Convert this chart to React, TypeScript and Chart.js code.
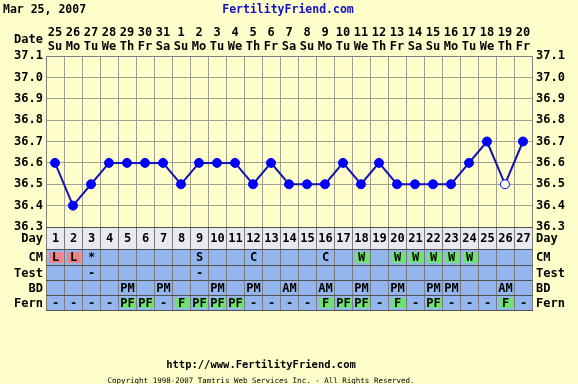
import React, { useEffect, useRef } from 'react';
import { Chart, registerables } from 'chart.js';

Chart.register(...registerables);

const dates = ['25', '26', '27', '28', '29', '30', '31', '1', '2', '3', '4', '5', '6', '7', '8', '9', '10', '11', '12', '13', '14', '15', '16', '17', '18', '19', '20'];
const weekdays = ['Su', 'Mo', 'Tu', 'We', 'Th', 'Fr', 'Sa', 'Su', 'Mo', 'Tu', 'We', 'Th', 'Fr', 'Sa', 'Su', 'Mo', 'Tu', 'We', 'Th', 'Fr', 'Sa', 'Su', 'Mo', 'Tu', 'We', 'Th', 'Fr'];
const cycleDays = ['1', '2', '3', '4', '5', '6', '7', '8', '9', '10', '11', '12', '13', '14', '15', '16', '17', '18', '19', '20', '21', '22', '23', '24', '25', '26', '27'];
const temps = [36.6, 36.4, 36.5, 36.6, 36.6, 36.6, 36.6, 36.5, 36.6, 36.6, 36.6, 36.5, 36.6, 36.5, 36.5, 36.5, 36.6, 36.5, 36.6, 36.5, 36.5, 36.5, 36.5, 36.6, 36.7, 36.5, 36.7];
const openPoints = ['26'];
const cmRow = ['L', 'L', '*', '', '', '', '', '', 'S', '', '', 'C', '', '', '', 'C', '', 'W', '', 'W', 'W', 'W', 'W', 'W', '', '', ''];
const testRow = ['', '', '-', '', '', '', '', '', '-', '', '', '', '', '', '', '', '', '', '', '', '', '', '', '', '', '', ''];
const bdRow = ['', '', '', '', 'PM', '', 'PM', '', '', 'PM', '', 'PM', '', 'AM', '', 'AM', '', 'PM', '', 'PM', '', 'PM', 'PM', '', '', 'AM', ''];
const fernRow = ['-', '-', '-', '-', 'PF', 'PF', '-', 'F', 'PF', 'PF', 'PF', '-', '-', '-', '-', 'F', 'PF', 'PF', '-', 'F', '-', 'PF', '-', '-', '-', 'F', '-'];
const tempMin = 36.3;
const tempMax = 37.1;
const tempStep = 0.1;

const FONT = '"DejaVu Sans Mono", "Liberation Mono", monospace';
const BG = '#ffffcc';
const RED = '#ee8484';
const GREEN = '#6ee46e';
const BLUE_ROW = '#93b6ef';

const pagePlugin = {
  id: 'pagePlugin',
  beforeDraw(chart: any) {
    const ctx = chart.ctx;
    ctx.save();
    ctx.fillStyle = BG;
    ctx.fillRect(0, 0, chart.width, chart.height);
    ctx.restore();
  },
  afterDraw(chart: any) {
    const ctx = chart.ctx;
    const xs = chart.scales.x;
    const { left, right, bottom } = chart.chartArea;
    ctx.save();
    // header
    ctx.textBaseline = 'middle';
    ctx.font = `bold 11.5px ${FONT}`;
    ctx.fillStyle = '#000';
    ctx.textAlign = 'left';
    ctx.fillText('Mar 25, 2007', 3, 10);
    ctx.fillStyle = '#1010c8';
    ctx.textAlign = 'center';
    ctx.fillText('FertilityFriend.com', 288, 10);
    ctx.fillStyle = '#000';
    ctx.font = `bold 12px ${FONT}`;
    ctx.textAlign = 'right';
    ctx.fillText('Date', 43, 40);

    // table
    const half = (xs.getPixelForValue(1) - xs.getPixelForValue(0)) / 2;
    const rows = [
      { label: 'Day', h: 22, values: cycleDays, bg: '#e9e9f1', hi: {} as Record<string, string> },
      { label: 'CM', h: 16, values: cmRow, bg: BLUE_ROW, hi: { L: RED, W: GREEN } as Record<string, string> },
      { label: 'Test', h: 15, values: testRow, bg: BLUE_ROW, hi: {} as Record<string, string> },
      { label: 'BD', h: 15, values: bdRow, bg: BLUE_ROW, hi: {} as Record<string, string> },
      { label: 'Fern', h: 15, values: fernRow, bg: BLUE_ROW, hi: { F: GREEN, PF: GREEN } as Record<string, string> },
    ];
    let top = Math.round(bottom);
    const tableTop = top;
    const hLines: number[] = [top];
    rows.forEach((row) => {
      ctx.fillStyle = row.bg;
      ctx.fillRect(left, top, right - left, row.h);
      row.values.forEach((v, i) => {
        const cx = xs.getPixelForValue(i);
        const c = row.hi[v];
        if (c) {
          ctx.fillStyle = c;
          ctx.fillRect(Math.round(cx - half) + 3, top + 3, Math.round(half * 2) - 4, row.h - 5);
        }
      });
      ctx.fillStyle = '#000';
      ctx.font = `bold 12px ${FONT}`;
      ctx.textAlign = 'center';
      row.values.forEach((v, i) => {
        if (!v) return;
        const cx = xs.getPixelForValue(i);
        ctx.fillText(v, cx + 0.5, top + row.h / 2 + 1);
      });
      ctx.textAlign = 'right';
      ctx.fillText(row.label, 43, top + row.h / 2 + 1);
      ctx.textAlign = 'left';
      ctx.fillText(row.label, 536, top + row.h / 2 + 1);
      top += row.h;
      hLines.push(top);
    });
    // vertical lines
    ctx.strokeStyle = '#7c7c7c';
    ctx.lineWidth = 1;
    for (let i = 0; i <= cycleDays.length; i++) {
      const bx = Math.round(xs.getPixelForValue(i) - half) + 0.5;
      ctx.beginPath();
      ctx.moveTo(bx, tableTop);
      ctx.lineTo(bx, top);
      ctx.stroke();
    }
    ctx.strokeStyle = '#505050';
    hLines.forEach((y) => {
      ctx.beginPath();
      ctx.moveTo(Math.round(left), y + 0.5);
      ctx.lineTo(Math.round(right) + 1, y + 0.5);
      ctx.stroke();
    });

    // footer
    ctx.fillStyle = '#000';
    ctx.textAlign = 'center';
    ctx.font = `bold 10.5px ${FONT}`;
    ctx.fillText('http://www.FertilityFriend.com', 261, 365);
    ctx.font = `7.5px ${FONT}`;
    ctx.fillText('Copyright 1998-2007 Tamtris Web Services Inc. - All Rights Reserved.', 261, 381);
    ctx.restore();
  },
};

export default function App() {
  const ref = useRef<HTMLCanvasElement | null>(null);
  useEffect(() => {
    if (!ref.current) return;
    const tickFont = { family: FONT, size: 12, weight: 'bold' as const, lineHeight: 1.15 };
    const yTickCb = (v: any) => Number(v).toFixed(1);
    const chart = new Chart(ref.current, {
      type: 'line',
      data: {
        labels: cycleDays,
        datasets: [
          {
            data: temps,
            borderColor: '#1414b4',
            borderWidth: 2,
            pointRadius: 4.5,
            pointBorderWidth: 1,
            pointBackgroundColor: cycleDays.map((d) => (openPoints.includes(d) ? '#ffffff' : '#0000ff')),
            pointBorderColor: '#0000ff',
            tension: 0,
            fill: false,
          },
        ],
      },
      plugins: [pagePlugin],
      options: {
        animation: false,
        responsive: false,
        devicePixelRatio: 1,
        layout: { padding: { left: 0, right: 0, top: 0, bottom: 157 } },
        plugins: { legend: { display: false }, tooltip: { enabled: false } },
        scales: {
          x: {
            type: 'category',
            position: 'top',
            offset: true,
            grid: { offset: true, color: '#a09f92', drawTicks: false },
            border: { color: '#808080' },
            ticks: {
              autoSkip: false,
              maxRotation: 0,
              padding: 2,
              color: '#000',
              font: tickFont,
              callback: (_v: any, i: number) => [dates[i], weekdays[i]],
            },
            afterFit: (s: any) => {
              s.height = 56;
            },
          },
          y: {
            position: 'left',
            min: tempMin,
            max: tempMax,
            grid: { color: '#a09f92', drawTicks: false },
            border: { color: '#808080' },
            ticks: { stepSize: tempStep, padding: 3, color: '#000', font: tickFont, callback: yTickCb },
            afterFit: (s: any) => {
              s.width = 46;
            },
          },
          y2: {
            position: 'right',
            min: tempMin,
            max: tempMax,
            grid: { display: false, drawTicks: false },
            border: { color: '#808080' },
            ticks: { stepSize: tempStep, padding: 4, color: '#000', font: tickFont, callback: yTickCb },
            afterFit: (s: any) => {
              s.width = 46;
            },
          },
        },
      },
    });
    return () => chart.destroy();
  }, []);
  return (
    <div style={{ position: 'fixed', left: 0, top: 0, width: 578, height: 384, background: BG }}>
      <canvas ref={ref} width={578} height={384} />
    </div>
  );
}
